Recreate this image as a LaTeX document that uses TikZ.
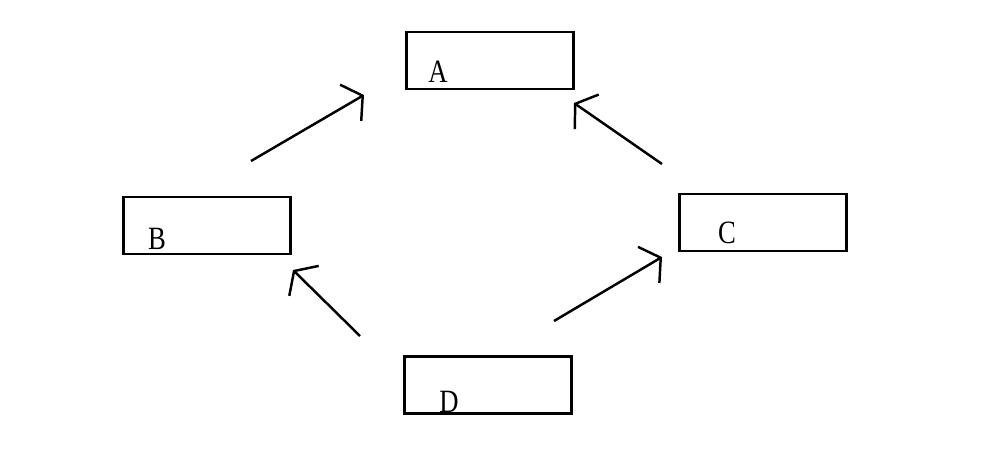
\documentclass[tikz,border=0pt]{standalone}
\usepackage{fontspec}
\setmainfont[FakeStretch=0.82]{Liberation Serif}
\usetikzlibrary{arrows.meta}
\tikzset{
  box/.style={draw, line width=1.6pt, minimum width=3.34cm, minimum height=1.14cm, inner sep=0pt},
  lbl/.style={font=\fontsize{18.5}{18.5}\selectfont},
  link/.style={line width=1.4pt, -{Straight Barb[length=0.28cm, width=0.84cm, line width=1.4pt]}}
}
\begin{document}
\begin{tikzpicture}[x=0.02cm, y=-0.02cm]
    \useasboundingbox (0,0) rectangle (1005,474);

    % 四つの箱
    \node[box, label={[lbl, shift={(-52,11)}]center:A}] (A) at (490,60.5) {};
    \node[box, label={[lbl, shift={(-50,13)}]center:B}] (B) at (207,225.5) {};
    \node[box, label={[lbl, shift={(-36,10)}]center:C}] (C) at (763,222.5) {};
    \node[box, label={[lbl, shift={(-39,17)}]center:D}] (D) at (488,385) {};

    % 矢印の端点
    \coordinate (ba0) at (251,161);  \coordinate (ba1) at (364,95);
    \coordinate (ca0) at (662,164);  \coordinate (ca1) at (574,103);
    \coordinate (db0) at (360,336);  \coordinate (db1) at (293,270);
    \coordinate (dc0) at (554,321);  \coordinate (dc1) at (662,257);

    % 矢印
    \draw[link] (ba0) -- (ba1);
    \draw[link] (ca0) -- (ca1);
    \draw[link] (db0) -- (db1);
    \draw[link] (dc0) -- (dc1);
\end{tikzpicture}
\end{document}
